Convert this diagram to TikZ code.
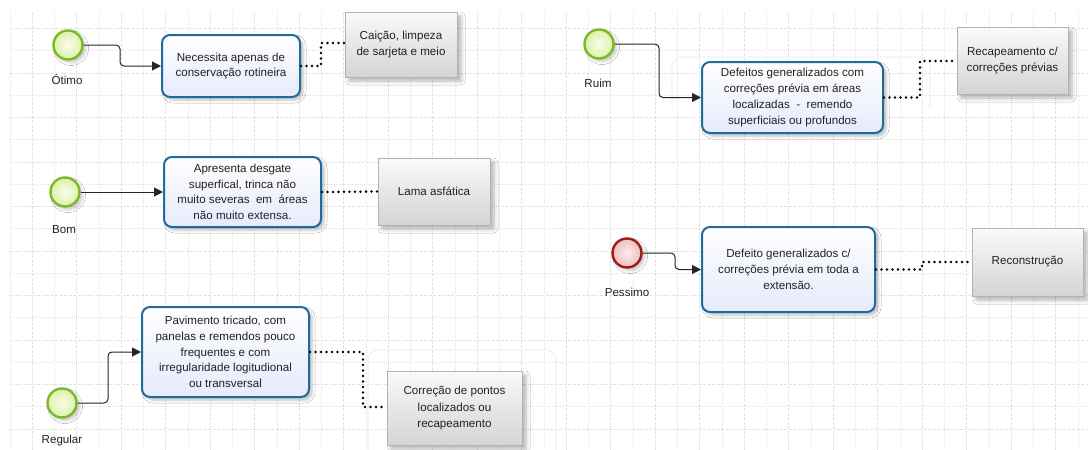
\documentclass[tikz,border=0pt]{standalone}
\usepackage{fontspec}
\setmainfont{Liberation Sans}
\usetikzlibrary{arrows.meta,shadows.blur}

\definecolor{evgreen}{RGB}{122,186,42}
\definecolor{evgreenin}{RGB}{250,253,232}
\definecolor{evgreenout}{RGB}{222,240,170}
\definecolor{evred}{RGB}{160,26,26}
\definecolor{evredin}{RGB}{252,236,236}
\definecolor{evredout}{RGB}{238,190,190}
\definecolor{taskblue}{RGB}{30,108,158}
\definecolor{tasklav}{RGB}{230,234,252}
\definecolor{notegray}{RGB}{212,212,212}
\definecolor{txt}{RGB}{34,34,34}
\definecolor{gridc}{RGB}{226,226,226}

\tikzset{
  evstart/.style={circle, minimum size=29pt, inner sep=0pt, line width=2.4pt,
    draw=evgreen, inner color=evgreenin, outer color=evgreenout,
    blur shadow={shadow xshift=3pt, shadow yshift=-3pt, shadow blur radius=3pt, shadow opacity=22}},
  evend/.style={circle, minimum size=29pt, inner sep=0pt, line width=2.4pt,
    draw=evred, inner color=evredin, outer color=evredout,
    blur shadow={shadow xshift=3pt, shadow yshift=-3pt, shadow blur radius=3pt, shadow opacity=22}},
  evlabel/.style={font=\fontsize{11.6}{13}\selectfont, text=txt, inner sep=0pt},
  task/.style={rounded corners=8pt, line width=2pt, draw=taskblue,
    top color=white, bottom color=tasklav, inner sep=2pt, align=center,
    text=txt, font=\fontsize{11.6}{15.7}\selectfont,
    blur shadow={shadow xshift=3pt, shadow yshift=-3pt, shadow blur radius=3pt, shadow opacity=25}},
  note/.style={draw=gray!60, line width=0.8pt, top color=white!96!gray, bottom color=notegray,
    inner sep=2pt, align=center, text=txt, font=\fontsize{11.6}{16.5}\selectfont,
    blur shadow={shadow xshift=4pt, shadow yshift=-4pt, shadow blur radius=4pt, shadow opacity=30}},
  flow/.style={draw=black!85, line width=1pt, rounded corners=4pt,
    -{Triangle[length=9pt,width=9pt]}},
  assoc/.style={draw=black, line width=2.8pt, line cap=round,
    dash pattern=on 0pt off 5.5pt},
  ghost/.style={draw=black!5, line width=1.2pt, rounded corners=10pt},
}

\begin{document}
\begin{tikzpicture}[x=1pt,y=-1pt]
  % canvas and page grid
  \fill[white] (0,0) rectangle (1088,450);
  \useasboundingbox (0,0) rectangle (1088,450);
  \foreach \k in {0,...,48}{
    \pgfmathsetmacro{\gx}{10+22.25*\k}
    \ifodd\k
      \draw[gridc, line width=0.8pt, dash pattern=on 3pt off 1.5pt] (\gx,12) -- (\gx,450);
    \else
      \draw[gridc, line width=0.7pt, dash pattern=on 1pt off 1pt] (\gx,12) -- (\gx,450);
    \fi
  }
  \foreach \m in {0,...,19}{
    \pgfmathsetmacro{\gy}{28.5+22.25*\m}
    \ifodd\m
      \draw[gridc, line width=0.7pt, dash pattern=on 1pt off 1pt] (10,\gy) -- (1088,\gy);
    \else
      \draw[gridc, line width=0.8pt, dash pattern=on 3pt off 1.5pt] (10,\gy) -- (1088,\gy);
    \fi
  }

  % faint lane outlines left behind the flows
  \draw[ghost] (368,460) -- (368,350) -- (556,350) -- (556,460);
  \draw[ghost] (672,107) -- (672,57) -- (930,57) -- (930,107);

  % start events and their labels
  \node[evstart] (otimo) at (68,45) {};
  \node[evlabel] (lotimo) at (67,80) {Ótimo};
  \node[evstart] (bom) at (65,192) {};
  \node[evlabel] (lbom) at (64,230) {Bom};
  \node[evstart] (regular) at (62,403) {};
  \node[evlabel] (lregular) at (62,440) {Regular};
  \node[evstart] (ruim) at (599,44) {};
  \node[evlabel] (lruim) at (598,83) {Ruim};
  \node[evend] (pessimo) at (627,253) {};
  \node[evlabel] (lpessimo) at (627,292) {Pessimo};

  % condition tasks
  \node[task, minimum width=138pt, minimum height=62pt] (t1) at (231,66)
    {Necessita apenas de\\conservação rotineira};
  \node[task, minimum width=157pt, minimum height=70pt] (t2) at (242.5,192)
    {Apresenta desgate\\superfical, trinca não\\muito severas\ \ em\ \ áreas\\não muito extensa.};
  \node[task, minimum width=167pt, minimum height=90pt] (t3) at (225.5,352)
    {Pavimento tricado, com\\panelas e remendos pouco\\frequentes e com\\irregularidade logitudional\\ou transversal};
  \node[task, minimum width=181pt, minimum height=71pt] (t4) at (792.5,97.5)
    {Defeitos generalizados com\\correções prévia em áreas\\localizadas\ \ -\ \ remendo\\superficiais ou profundos};
  \node[task, minimum width=173pt, minimum height=85pt] (t5) at (788.5,269.5)
    {Defeito generalizados c/\\correções prévia em toda a\\extensão.};

  % maintenance annotations
  \node[note, minimum width=112pt, minimum height=65pt] (a1) at (401,44.5)
    {Caição, limpeza\\de sarjeta e meio};
  \node[note, minimum width=112pt, minimum height=67pt] (a2) at (434,191.5)
    {Lama asfática};
  \node[note, minimum width=135pt, minimum height=74pt] (a3) at (454.5,408)
    {Correção de pontos\\localizados ou\\recapeamento};
  \node[note, minimum width=111pt, minimum height=67pt] (a4) at (1012.5,60.5)
    {Recapeamento c/\\correções prévias};
  \node[note, minimum width=111pt, minimum height=68pt] (a5) at (1027.5,262)
    {Reconstrução};

  % sequence flows
  \draw[flow] (otimo.east) -- (120,45) -- (120,66) -- (t1.west);
  \draw[flow] (bom.east) -- (t2.west);
  \draw[flow] (regular.east) -- (108,403) -- (108,352) -- (t3.west);
  \draw[flow] (ruim.east) -- (659,44) -- (659,97.5) -- (t4.west);
  \draw[flow] (pessimo.east) -- (675,253) -- (675,269.5) -- (t5.west);

  % associations
  \draw[assoc] (t1.east) -- (321,66) -- (321,43) -- (a1.west |- 0,43);
  \draw[assoc] (t2.east) -- (a2.west);
  \draw[assoc] (t3.east) -- (363,352) -- (363,407) -- (a3.west |- 0,407);
  \draw[assoc] (t4.east) -- (920,97.5) -- (920,61) -- (a4.west |- 0,61);
  \draw[assoc] (t5.east) -- (922,269.5) -- (922,262) -- (a5.west);
\end{tikzpicture}
\end{document}
